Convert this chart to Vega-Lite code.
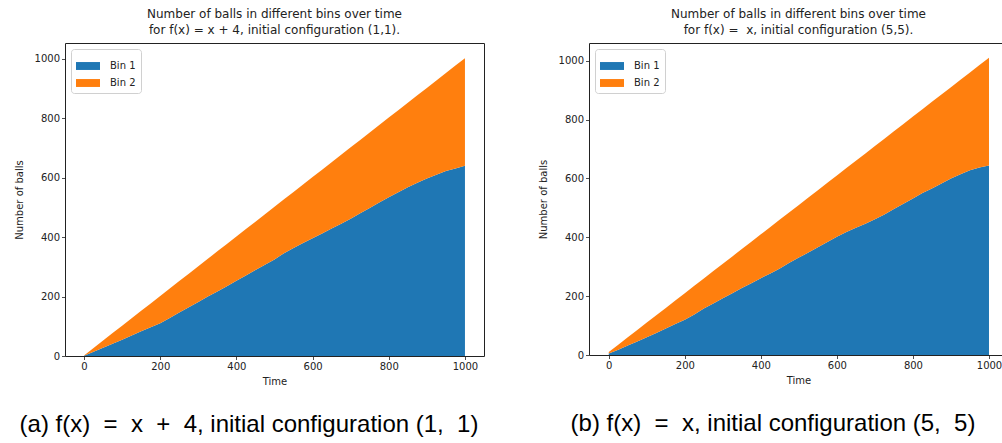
{
  "$schema": "https://vega.github.io/schema/vega-lite/v6.json",
  "padding": {"left": 13, "top": 7, "right": 0, "bottom": 0},
  "background": "white",
  "hconcat": [
    {
      "title": {"text": "(a) f(x)\u00a0\u00a0=\u00a0\u00a0x\u00a0\u00a0+\u00a0\u00a04, initial configuration (1,\u00a0\u00a01)", "orient": "bottom", "font": "Liberation Sans", "fontSize": 24, "fontWeight": "normal", "color": "#000", "offset": 26, "frame": "bounds", "anchor": "middle"},
      "vconcat": [
        {
          "width": 419,
          "height": 313,
          "title": {"text": ["Number of balls in different bins over time", "for f(x) = x + 4, initial configuration (1,1)."], "offset": 6, "lineHeight": 16},
          "data": {"values": [
            {"t": 0, "Bin 1": 1, "Bin 2": 1},
            {"t": 25, "Bin 1": 14, "Bin 2": 13},
            {"t": 50, "Bin 1": 28, "Bin 2": 24},
            {"t": 75, "Bin 1": 41, "Bin 2": 36},
            {"t": 100, "Bin 1": 55, "Bin 2": 47},
            {"t": 125, "Bin 1": 69, "Bin 2": 58},
            {"t": 150, "Bin 1": 83, "Bin 2": 69},
            {"t": 175, "Bin 1": 97, "Bin 2": 80},
            {"t": 200, "Bin 1": 110, "Bin 2": 92},
            {"t": 225, "Bin 1": 128, "Bin 2": 99},
            {"t": 250, "Bin 1": 146, "Bin 2": 106},
            {"t": 275, "Bin 1": 164, "Bin 2": 113},
            {"t": 300, "Bin 1": 182, "Bin 2": 120},
            {"t": 325, "Bin 1": 200, "Bin 2": 127},
            {"t": 350, "Bin 1": 217, "Bin 2": 135},
            {"t": 375, "Bin 1": 235, "Bin 2": 142},
            {"t": 400, "Bin 1": 253, "Bin 2": 149},
            {"t": 425, "Bin 1": 271, "Bin 2": 156},
            {"t": 450, "Bin 1": 289, "Bin 2": 163},
            {"t": 475, "Bin 1": 307, "Bin 2": 170},
            {"t": 500, "Bin 1": 325, "Bin 2": 177},
            {"t": 525, "Bin 1": 346, "Bin 2": 181},
            {"t": 550, "Bin 1": 363, "Bin 2": 189},
            {"t": 575, "Bin 1": 380, "Bin 2": 197},
            {"t": 600, "Bin 1": 396, "Bin 2": 206},
            {"t": 625, "Bin 1": 412, "Bin 2": 215},
            {"t": 650, "Bin 1": 429, "Bin 2": 223},
            {"t": 675, "Bin 1": 445, "Bin 2": 232},
            {"t": 700, "Bin 1": 462, "Bin 2": 240},
            {"t": 725, "Bin 1": 480, "Bin 2": 247},
            {"t": 750, "Bin 1": 498, "Bin 2": 254},
            {"t": 775, "Bin 1": 516, "Bin 2": 261},
            {"t": 800, "Bin 1": 534, "Bin 2": 268},
            {"t": 825, "Bin 1": 551, "Bin 2": 276},
            {"t": 850, "Bin 1": 568, "Bin 2": 284},
            {"t": 875, "Bin 1": 583, "Bin 2": 294},
            {"t": 900, "Bin 1": 597, "Bin 2": 305},
            {"t": 925, "Bin 1": 610, "Bin 2": 317},
            {"t": 950, "Bin 1": 622, "Bin 2": 330},
            {"t": 975, "Bin 1": 631, "Bin 2": 346},
            {"t": 1000, "Bin 1": 640, "Bin 2": 362}
          ]},
          "transform": [{"fold": ["Bin 1", "Bin 2"], "as": ["bin", "n"]}],
          "mark": {"type": "area", "interpolate": "linear"},
          "encoding": {
            "x": {"field": "t", "type": "quantitative", "scale": {"domain": [-50, 1050], "nice": false, "zero": false}, "axis": {"values": [0, 200, 400, 600, 800, 1000], "format": "d", "title": "Time", "titlePadding": 5}},
            "y": {"field": "n", "type": "quantitative", "stack": "zero", "scale": {"domain": [0, 1053], "nice": false}, "axis": {"values": [0, 200, 400, 600, 800, 1000], "format": "d", "title": "Number of balls", "titlePadding": 10}},
            "color": {"field": "bin", "type": "nominal", "scale": {"domain": ["Bin 1", "Bin 2"], "range": ["#1f77b4", "#ff7f0e"]}, "legend": {"title": null}},
            "order": {"field": "bin", "sort": "ascending"}
          }
        }
      ]
    },
    {
      "title": {"text": "(b) f(x)\u00a0\u00a0=\u00a0\u00a0x, initial configuration (5,\u00a0\u00a05)", "orient": "bottom", "font": "Liberation Sans", "fontSize": 24, "fontWeight": "normal", "color": "#000", "offset": 26, "frame": "bounds", "anchor": "middle"},
      "vconcat": [
        {
          "width": 419,
          "height": 312,
          "title": {"text": ["Number of balls in different bins over time", "for f(x) = \u00a0x, initial configuration (5,5)."], "offset": 6, "lineHeight": 16},
          "data": {"values": [
            {"t": 0, "Bin 1": 5, "Bin 2": 5},
            {"t": 25, "Bin 1": 18, "Bin 2": 17},
            {"t": 50, "Bin 1": 32, "Bin 2": 28},
            {"t": 75, "Bin 1": 46, "Bin 2": 39},
            {"t": 100, "Bin 1": 60, "Bin 2": 50},
            {"t": 125, "Bin 1": 75, "Bin 2": 60},
            {"t": 150, "Bin 1": 90, "Bin 2": 70},
            {"t": 175, "Bin 1": 105, "Bin 2": 80},
            {"t": 200, "Bin 1": 120, "Bin 2": 90},
            {"t": 225, "Bin 1": 138, "Bin 2": 97},
            {"t": 250, "Bin 1": 158, "Bin 2": 102},
            {"t": 275, "Bin 1": 175, "Bin 2": 110},
            {"t": 300, "Bin 1": 193, "Bin 2": 117},
            {"t": 325, "Bin 1": 210, "Bin 2": 125},
            {"t": 350, "Bin 1": 228, "Bin 2": 132},
            {"t": 375, "Bin 1": 244, "Bin 2": 141},
            {"t": 400, "Bin 1": 261, "Bin 2": 149},
            {"t": 425, "Bin 1": 277, "Bin 2": 158},
            {"t": 450, "Bin 1": 294, "Bin 2": 166},
            {"t": 475, "Bin 1": 313, "Bin 2": 172},
            {"t": 500, "Bin 1": 331, "Bin 2": 179},
            {"t": 525, "Bin 1": 348, "Bin 2": 187},
            {"t": 550, "Bin 1": 366, "Bin 2": 194},
            {"t": 575, "Bin 1": 384, "Bin 2": 201},
            {"t": 600, "Bin 1": 402, "Bin 2": 208},
            {"t": 625, "Bin 1": 418, "Bin 2": 217},
            {"t": 650, "Bin 1": 432, "Bin 2": 228},
            {"t": 675, "Bin 1": 446, "Bin 2": 239},
            {"t": 700, "Bin 1": 461, "Bin 2": 249},
            {"t": 725, "Bin 1": 477, "Bin 2": 258},
            {"t": 750, "Bin 1": 496, "Bin 2": 264},
            {"t": 775, "Bin 1": 514, "Bin 2": 271},
            {"t": 800, "Bin 1": 532, "Bin 2": 278},
            {"t": 825, "Bin 1": 550, "Bin 2": 285},
            {"t": 850, "Bin 1": 566, "Bin 2": 294},
            {"t": 875, "Bin 1": 583, "Bin 2": 302},
            {"t": 900, "Bin 1": 600, "Bin 2": 310},
            {"t": 925, "Bin 1": 614, "Bin 2": 321},
            {"t": 950, "Bin 1": 628, "Bin 2": 332},
            {"t": 975, "Bin 1": 637, "Bin 2": 348},
            {"t": 1000, "Bin 1": 644, "Bin 2": 366}
          ]},
          "transform": [{"fold": ["Bin 1", "Bin 2"], "as": ["bin", "n"]}],
          "mark": {"type": "area", "interpolate": "linear"},
          "encoding": {
            "x": {"field": "t", "type": "quantitative", "scale": {"domain": [-52, 1050], "nice": false, "zero": false}, "axis": {"values": [0, 200, 400, 600, 800, 1000], "format": "d", "title": "Time", "titlePadding": 5}},
            "y": {"field": "n", "type": "quantitative", "stack": "zero", "scale": {"domain": [0, 1060], "nice": false}, "axis": {"values": [0, 200, 400, 600, 800, 1000], "format": "d", "title": "Number of balls", "titlePadding": 10}},
            "color": {"field": "bin", "type": "nominal", "scale": {"domain": ["Bin 1", "Bin 2"], "range": ["#1f77b4", "#ff7f0e"]}, "legend": {"title": null}},
            "order": {"field": "bin", "sort": "ascending"}
          }
        }
      ]
    }
  ],
  "resolve": {"scale": {"color": "independent", "x": "independent", "y": "independent"}, "legend": {"color": "independent"}},
  "spacing": 52,
  "config": {
    "font": "DejaVu Sans",
    "view": {"stroke": "#222222", "strokeWidth": 1},
    "axis": {"labelFontSize": 10, "titleFontSize": 10, "titleFontWeight": "normal", "labelColor": "#222222", "titleColor": "#222222", "tickColor": "#222222", "tickSize": 3.5, "tickWidth": 0.8, "grid": false, "domain": false, "labelPadding": 2},
    "title": {"fontSize": 12, "fontWeight": "normal", "color": "#222222"},
    "legend": {"orient": "top-left", "offset": 6, "padding": 5, "fillColor": "white", "strokeColor": "#d0d0d0", "cornerRadius": 3, "labelFontSize": 10, "labelColor": "#222222", "symbolType": "M-1,-0.33H1V0.33H-1Z", "symbolSize": 576, "symbolStrokeWidth": 0, "symbolOpacity": 1, "labelOffset": 10, "rowPadding": 0}
  }
}
